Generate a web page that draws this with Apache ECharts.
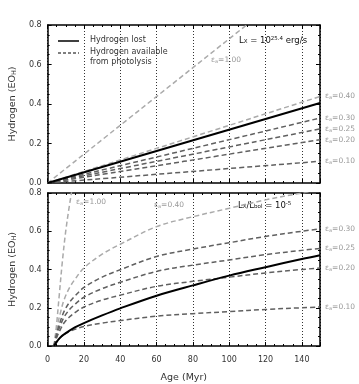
<!DOCTYPE html>
<html>
<head>
<meta charset="utf-8">
<script src="https://cdn.jsdelivr.net/npm/echarts@6/dist/echarts.min.js"></script>
<style>
    html, body { margin: 0; padding: 0; background: #fff; }
    #chart { width: 359px; height: 384px; }
</style>
</head>
<body>
<div id="chart"></div>
<script>
// top panel: straight lines from the origin, values at 0 and 150 Myr
var topAges = [0, 150];
var topLost = [0, 0.405];
var topE100 = [0, 1.095];
var topE40 = [0, 0.438];
var topE30 = [0, 0.329];
var topE25 = [0, 0.274];
var topE20 = [0, 0.219];
var topE10 = [0, 0.11];

// bottom panel
var botLostAges = [3.5, 5, 7, 10, 15, 20, 30, 40, 60, 80, 100, 120, 140, 150];
var botLost = [0, 0.022, 0.045, 0.067, 0.097, 0.12, 0.16, 0.197, 0.263, 0.317, 0.368, 0.412, 0.455, 0.475];
var botE100Ages = [3.5, 4.8, 6.3, 8.1, 9.9, 11.6, 13.1, 14.5];
var botE100 = [0, 0.1, 0.255, 0.44, 0.595, 0.71, 0.8, 0.88];
var botAges = [3.5, 4.5, 5.5, 7, 9, 12, 15, 20, 30, 40, 60, 80, 100, 120, 140, 150];
var botE40 = [0, 0.06, 0.112, 0.172, 0.24, 0.304, 0.348, 0.408, 0.48, 0.532, 0.624, 0.676, 0.72, 0.764, 0.8, 0.816];
var botE30 = [0, 0.045, 0.084, 0.129, 0.18, 0.228, 0.261, 0.306, 0.36, 0.399, 0.468, 0.507, 0.54, 0.573, 0.6, 0.612];
var botE25 = [0, 0.038, 0.07, 0.108, 0.15, 0.19, 0.218, 0.255, 0.3, 0.333, 0.39, 0.423, 0.45, 0.478, 0.5, 0.51];
var botE20 = [0, 0.03, 0.056, 0.086, 0.12, 0.152, 0.174, 0.204, 0.24, 0.266, 0.312, 0.338, 0.36, 0.382, 0.4, 0.408];
var botE10 = [0, 0.015, 0.028, 0.043, 0.06, 0.076, 0.087, 0.102, 0.12, 0.133, 0.156, 0.169, 0.18, 0.191, 0.2, 0.204];

var FONT = 'DejaVu Sans';
var LIGHT = '#aaaaaa';
var DARK = '#606060';
var LABEL = '#9a9a9a';

function pairs(xs, ys) {
    return xs.map(function(x, i) { return [x, ys[i]]; });
}

function epsText(v) {
    return '{e|ε}{s|a}{e|=' + v + '}';
}

var epsRich = {
    e: { fontFamily: FONT, fontSize: 7.5, color: LABEL },
    s: { fontFamily: FONT, fontSize: 5, color: LABEL, verticalAlign: 'bottom' }
};

function xAxis(grid, pos, labels) {
    return {
        type: 'value', gridIndex: grid, position: pos, min: 0, max: 150, interval: 20,
        axisLine: { show: true, onZero: false, lineStyle: { color: '#000', width: 1.5 } },
        axisTick: { show: true, inside: true, length: 4, lineStyle: { color: '#000', width: 1 } },
        minorTick: { show: true, splitNumber: 4, length: 2, lineStyle: { color: '#000', width: 1 } },
        axisLabel: { show: labels, showMaxLabel: false, margin: 10, fontFamily: FONT, fontSize: 8, color: '#333' },
        splitLine: { show: pos === 'bottom', lineStyle: { color: '#333', type: [1, 2], width: 1 } },
        name: labels ? 'Age (Myr)' : '',
        nameLocation: 'middle', nameGap: 27,
        nameTextStyle: { fontFamily: FONT, fontSize: 9.5, color: '#333' }
    };
}

function yAxis(grid, pos, labels) {
    return {
        type: 'value', gridIndex: grid, position: pos, min: 0, max: 0.8, interval: 0.2,
        axisLine: { show: true, onZero: false, lineStyle: { color: '#000', width: 1.5 } },
        axisTick: { show: true, inside: true, length: 4, lineStyle: { color: '#000', width: 1 } },
        minorTick: { show: true, splitNumber: 4, length: 2, lineStyle: { color: '#000', width: 1 } },
        axisLabel: {
            show: labels, margin: 6, fontFamily: FONT, fontSize: 8, color: '#333',
            formatter: function(v) { return v.toFixed(1); }
        },
        splitLine: { show: false },
        name: labels ? 'Hydrogen (EO{sub|H})' : '',
        nameLocation: 'middle', nameGap: 26, nameRotate: 90,
        nameTextStyle: {
            fontFamily: FONT, fontSize: 9.5, color: '#333',
            rich: { sub: { fontFamily: FONT, fontSize: 6.5, color: '#333', verticalAlign: 'bottom' } }
        }
    };
}

function solid(name, x, y, data) {
    return {
        name: name, type: 'line', xAxisIndex: x, yAxisIndex: y, data: data,
        symbol: 'none', smooth: 0.35, clip: true, z: 5,
        lineStyle: { color: '#000', width: 2 }
    };
}

function dashed(eps, x, y, data, color, endLabel) {
    return {
        name: eps, type: 'line', xAxisIndex: x, yAxisIndex: y, data: data,
        symbol: 'none', smooth: 0.35, clip: true,
        lineStyle: { color: color, width: 1.5, type: [5, 3] },
        endLabel: {
            show: endLabel, distance: 5,
            formatter: function() { return epsText(eps); },
            rich: epsRich
        }
    };
}

function textAt(x, y, text, rich, size, color) {
    return {
        type: 'text', left: x, top: y,
        style: { text: text, rich: rich, fontFamily: FONT, fontSize: size, fill: color }
    };
}

var supRich = {
    t: { fontFamily: FONT, fontSize: 8.5, color: '#111' },
    sub: { fontFamily: FONT, fontSize: 5.5, color: '#111', verticalAlign: 'bottom' },
    sup: { fontFamily: FONT, fontSize: 5.5, color: '#111', verticalAlign: 'top' }
};
var legendRich = { t: { fontFamily: FONT, fontSize: 8, color: '#333', lineHeight: 10 } };

var chart = echarts.init(document.getElementById('chart'), null, { renderer: 'canvas' });
chart.setOption({
    animation: false,
    backgroundColor: '#fff',
    grid: [
        { left: 42, top: 25, width: 278, height: 158 },
        { left: 42, top: 193, width: 278, height: 157 }
    ],
    xAxis: [xAxis(0, 'bottom', false), xAxis(0, 'top', false), xAxis(1, 'bottom', true), xAxis(1, 'top', false)],
    yAxis: [yAxis(0, 'left', true), yAxis(0, 'right', false), yAxis(1, 'left', true), yAxis(1, 'right', false)],
    series: [
        dashed('1.00', 0, 0, pairs(topAges, topE100), LIGHT, false),
        dashed('0.40', 0, 0, pairs(topAges, topE40), LIGHT, true),
        dashed('0.30', 0, 0, pairs(topAges, topE30), DARK, true),
        dashed('0.25', 0, 0, pairs(topAges, topE25), DARK, true),
        dashed('0.20', 0, 0, pairs(topAges, topE20), DARK, true),
        dashed('0.10', 0, 0, pairs(topAges, topE10), DARK, true),
        solid('Hydrogen lost', 0, 0, pairs(topAges, topLost)),
        dashed('1.00', 2, 2, pairs(botE100Ages, botE100), LIGHT, false),
        dashed('0.40', 2, 2, pairs(botAges, botE40), LIGHT, false),
        dashed('0.30', 2, 2, pairs(botAges, botE30), DARK, true),
        dashed('0.25', 2, 2, pairs(botAges, botE25), DARK, true),
        dashed('0.20', 2, 2, pairs(botAges, botE20), DARK, true),
        dashed('0.10', 2, 2, pairs(botAges, botE10), DARK, true),
        solid('Hydrogen lost', 2, 2, pairs(botLostAges, botLost))
    ],
    graphic: [
        // legend
        { type: 'line', shape: { x1: 58, y1: 41, x2: 79, y2: 41 }, style: { stroke: '#000', lineWidth: 1.5 } },
        { type: 'line', shape: { x1: 58, y1: 53, x2: 79, y2: 53 }, style: { stroke: '#000', lineWidth: 1.2, lineDash: [3, 2] } },
        textAt(90, 36, '{t|Hydrogen lost}', legendRich, 8, '#333'),
        textAt(90, 48, '{t|Hydrogen available}\n{t|from photolysis}', legendRich, 8, '#333'),
        // annotations
        textAt(239, 36, '{t|L}{sub|X}{t| = 10}{sup|25.4}{t| erg/s}', supRich, 8.5, '#111'),
        textAt(238, 201, '{t|L}{sub|X}{t|/L}{sub|bol}{t| = 10}{sup|-5}', supRich, 8.5, '#111'),
        textAt(211, 56, epsText('1.00'), epsRich, 7.5, LABEL),
        textAt(76, 198, epsText('1.00'), epsRich, 7.5, LABEL),
        textAt(154, 201, epsText('0.40'), epsRich, 7.5, LABEL)
    ]
});
</script>
</body>
</html>
